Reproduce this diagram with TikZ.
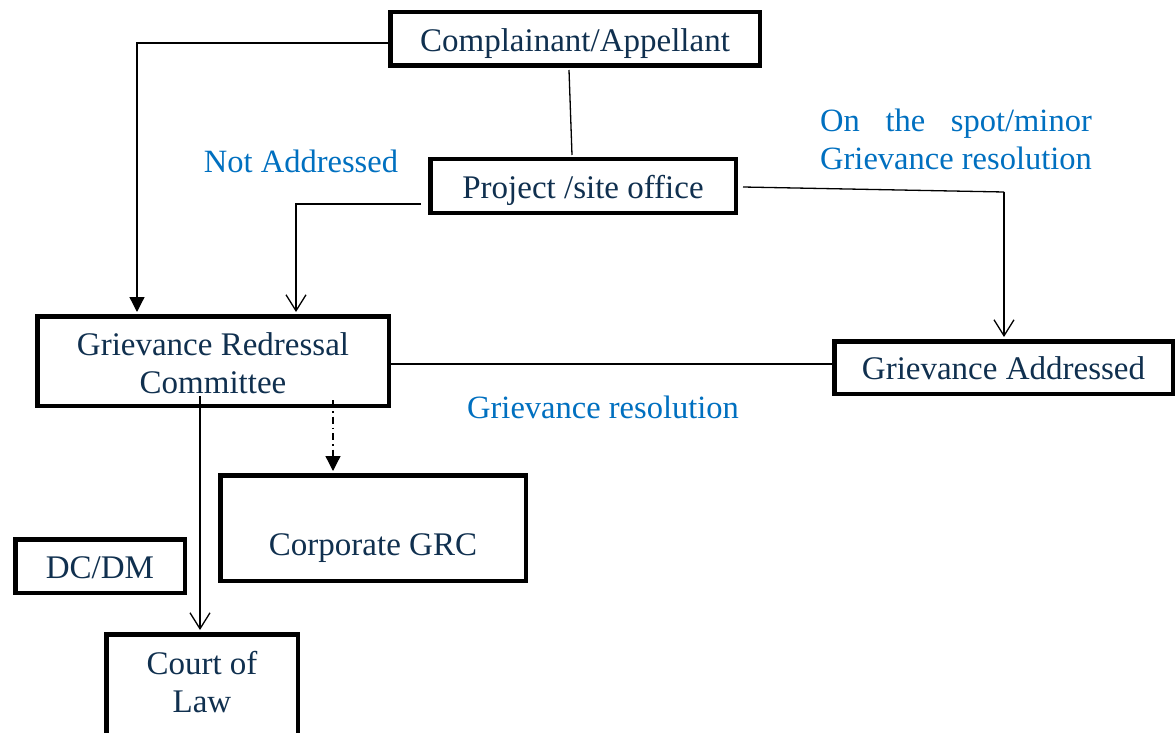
\documentclass[tikz,border=0pt]{standalone}
\usepackage{fontspec}
\setmainfont{Liberation Serif}
\usetikzlibrary{arrows.meta,calc}
\definecolor{navy}{HTML}{10304F}
\definecolor{lblue}{HTML}{0070C0}
\newsavebox{\grbox}
\begin{document}
\sbox{\grbox}{\fontsize{32.5}{38}\selectfont Grievance resolution}%
\begin{tikzpicture}[x=1pt,y=-1pt,
  box/.style={draw=black,line width=4.5pt,rectangle,inner sep=0pt},
  boxtext/.style={text=navy,font=\fontsize{33}{38}\selectfont,inner sep=0pt,anchor=base},
  lbl/.style={text=lblue,font=\fontsize{32.5}{38}\selectfont,inner sep=0pt},
  conn/.style={draw=black,line width=1.3pt},
  solidtip/.style={-{Triangle[width=15pt,length=15pt]}},
  opentip/.style={-{Straight Barb[width=20pt,length=16pt,line width=1.3pt]}},
  dashdot/.style={dash pattern=on 7pt off 4pt on 1.5pt off 4pt}]
\clip (0,0) rectangle (1176,733);
\fill[white] (0,0) rectangle (1176,733);

% boxes
\node[box,minimum width=369.5pt,minimum height=53.5pt] (comp) at (575,39) {};
\node[box,minimum width=305.5pt,minimum height=53.5pt] (proj) at (583,186) {};
\node[box,minimum width=351.5pt,minimum height=89.5pt] (grc) at (213,361) {};
\node[box,minimum width=338.5pt,minimum height=52.5pt] (ga) at (1003.5,367.5) {};
\node[box,minimum width=305.5pt,minimum height=105.5pt] (corp) at (373,528) {};
\node[box,minimum width=169.5pt,minimum height=53.5pt] (dcdm) at (100,566) {};
\node[box,minimum width=191.5pt,minimum height=108.5pt] (court) at (202,688.5) {};

% box texts
\node[boxtext] (compT) at (575,52) {Complainant/Appellant};
\node[boxtext] (projT) at (583,199) {Project /site office};
\node[boxtext,align=center] (grcT) at (213,393) {Grievance Redressal\\Committee};
\node[boxtext] (gaT) at (1003.5,379) {Grievance Addressed};
\node[boxtext] (corpT) at (373,555) {Corporate GRC};
\node[boxtext] (dcdmT) at (100,578) {DC/DM};
\node[boxtext,align=center] (courtT) at (202,712) {Court of\\Law};

% labels
\node[lbl,anchor=base] (notadd) at (301,173) {Not Addressed};
\node[lbl,anchor=base west,align=left] (spot) at (820,170)
  {\makebox[\wd\grbox][s]{On the spot/minor}\\Grievance resolution};
\node[lbl,anchor=base] (gres) at (603,418) {Grievance resolution};

% connectors
\coordinate (c1) at (1004,192);
\draw[conn,solidtip] ([yshift=-4pt]comp.west) -| ([xshift=102pt,yshift=2pt]grc.north west);
\draw[conn] ([xshift=-6pt,yshift=-2pt]comp.south) -- ([xshift=-11pt,yshift=2pt]proj.north);
\draw[conn,opentip] ([xshift=-7pt,yshift=-18pt]proj.west) -| ([xshift=261pt,yshift=2pt]grc.north west);
\draw[conn] ([xshift=5pt,yshift=-1pt]proj.east) -- (c1);
\draw[conn,opentip] (c1) -- ([xshift=0.5pt,yshift=2pt]ga.north);
\draw[conn] ([yshift=-3pt]grc.east) -- ([yshift=-3pt]grc.east -| ga.west);
\draw[conn,opentip] ([xshift=-13pt,yshift=-35pt]grc.center) -- ([xshift=-2pt,yshift=2pt]court.north);
\draw[conn,dashdot,solidtip] ([xshift=120pt,yshift=-39pt]grc.center) -- ([xshift=-40pt,yshift=2pt]corp.north);
\end{tikzpicture}
\end{document}
